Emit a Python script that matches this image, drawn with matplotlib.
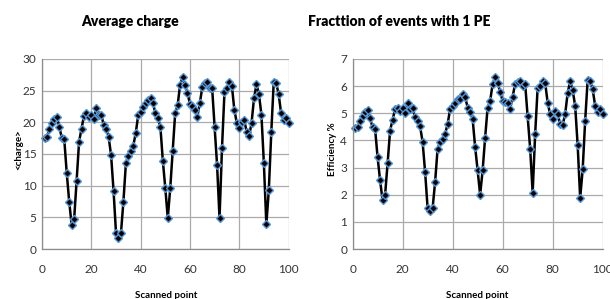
import numpy as np
import matplotlib
matplotlib.use("Agg")
import matplotlib.pyplot as plt

# scanned point index
scan_points = list(range(1, 101))

# average charge per scanned point
avg_charge = [17.5, 17.7, 19.0, 19.9, 20.5, 20.9, 19.3, 17.5, 17.3, 12.0,
              7.5, 3.8, 4.7, 10.7, 16.9, 19.0, 21.0, 21.4, 20.8, 21.2,
              20.5, 22.2, 21.2, 21.2, 19.6, 19.0, 17.7, 14.8, 9.2, 2.5,
              1.7, 2.5, 7.5, 13.5, 14.7, 15.4, 16.3, 18.3, 21.1, 21.7,
              22.4, 23.0, 23.5, 23.9, 23.0, 21.4, 20.6, 19.3, 13.9, 9.6,
              4.9, 9.6, 15.5, 21.4, 22.7, 25.9, 27.1, 25.9, 24.6, 22.9,
              22.5, 22.0, 20.9, 23.0, 25.5, 26.2, 26.3, 25.4, 25.4, 19.3,
              13.3, 4.9, 15.9, 24.7, 25.4, 26.3, 25.8, 22.0, 19.9, 19.1,
              20.1, 20.4, 18.5, 17.8, 19.9, 23.8, 26.0, 24.4, 21.2, 13.5,
              3.9, 9.3, 18.4, 26.4, 26.2, 24.4, 21.4, 20.4, 20.6, 19.9]

# fraction of events with 1 PE (%)
efficiency = [4.45, 4.48, 4.73, 4.90, 5.05, 5.11, 4.81, 4.48, 4.42, 3.38,
              2.53, 1.79, 2.00, 3.15, 4.36, 4.76, 5.15, 5.21, 5.09, 5.19,
              5.00, 5.39, 5.15, 5.19, 4.85, 4.73, 4.52, 3.94, 2.84, 1.51,
              1.40, 1.51, 2.47, 3.70, 3.94, 4.06, 4.24, 4.60, 5.15, 5.27,
              5.39, 5.51, 5.51, 5.69, 5.60, 5.21, 5.05, 4.79, 3.76, 2.90,
              2.00, 2.90, 4.10, 5.21, 5.45, 6.08, 6.32, 6.12, 5.79, 5.45,
              5.42, 5.39, 5.17, 5.61, 6.09, 6.14, 6.20, 6.00, 6.08, 4.88,
              3.70, 2.07, 4.24, 5.94, 6.00, 6.20, 6.12, 5.39, 4.97, 4.79,
              5.09, 4.97, 4.60, 4.57, 4.97, 5.75, 6.18, 5.85, 5.27, 3.82,
              1.88, 2.93, 4.73, 6.24, 6.18, 5.88, 5.27, 5.03, 5.15, 4.97]

x_ticks = [0, 20, 40, 60, 80, 100]
charge_ticks = [0, 5, 10, 15, 20, 25, 30]
eff_ticks = [0, 1, 2, 3, 4, 5, 6, 7]

plt.rcParams["font.family"] = ["Lato", "DejaVu Sans"]

fig = plt.figure(figsize=(6.10, 2.99), dpi=100)
ax1 = fig.add_axes([0.069, 0.167, 0.404, 0.636])
ax2 = fig.add_axes([0.578, 0.167, 0.410, 0.636])


def style_axes(ax, yticks):
    ax.set_xlim(0, 100)
    ax.set_ylim(yticks[0], yticks[-1])
    ax.set_xticks(x_ticks)
    ax.set_yticks(yticks)
    ax.grid(True, color="#ababab", linewidth=0.9)
    ax.set_axisbelow(True)
    for side in ["top", "right"]:
        ax.spines[side].set_visible(False)
    for side in ["left", "bottom"]:
        ax.spines[side].set_color("#8c8c8c")
        ax.spines[side].set_linewidth(0.9)
    ax.tick_params(length=0, labelsize=8.5, labelcolor="#333333")
    ax.tick_params(axis="x", pad=11)
    ax.tick_params(axis="y", pad=4)


for ax, vals, ticks in [(ax1, avg_charge, charge_ticks), (ax2, efficiency, eff_ticks)]:
    style_axes(ax, ticks)
    ax.plot(scan_points, vals, color="black", linewidth=1.8, marker="D",
            markersize=4.2, markerfacecolor="black", markeredgecolor="#5596d8",
            markeredgewidth=1.0, clip_on=False)

fig.text(0.213, 0.927, "Average charge", ha="center", va="center",
         fontsize=10, fontweight="heavy")
fig.text(0.654, 0.927, "Fracttion of events with 1 PE", ha="center", va="center",
         fontsize=10, fontweight="heavy")

fig.text(0.031, 0.50, "<charge>", rotation=90, ha="center", va="center",
         fontsize=7, fontweight="bold")
fig.text(0.545, 0.50, "Efficiency %", rotation=90, ha="center", va="center",
         fontsize=7, fontweight="bold")

fig.text(0.272, 0.012, "Scanned point", ha="center", va="center",
         fontsize=7, fontweight="bold")
fig.text(0.783, 0.012, "Scanned point", ha="center", va="center",
         fontsize=7, fontweight="bold")

plt.savefig("out.png", dpi=100)
